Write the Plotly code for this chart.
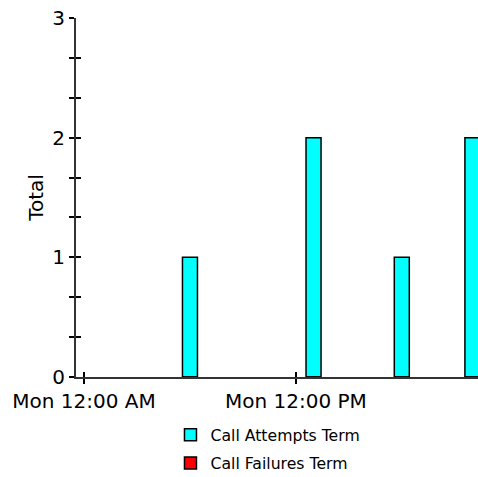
import plotly.graph_objects as go

times = ["2024-01-01 06:00", "2024-01-01 13:00", "2024-01-01 18:00", "2024-01-01 22:00"]
call_attempts = [1, 2, 1, 2]
call_failures = [0, 0, 0, 0]
y_ticks = [0, 1, 2, 3]

HOUR_MS = 3600 * 1000
FONT = "DejaVu Sans"

fig = go.Figure()
fig.add_trace(go.Bar(
    x=times, y=call_attempts, name="Call Attempts Term",
    marker=dict(color="#00FFFF", line=dict(color="#000000", width=1.5)),
    width=0.85 * HOUR_MS, legendgroup="a",
))
fig.add_trace(go.Bar(
    x=times, y=call_failures, name="Call Failures Term",
    marker=dict(color="#FF0000", line=dict(color="#000000", width=1.5)),
    width=0.85 * HOUR_MS, legendgroup="b",
))

yr = [0, 3]
xr = ["2023-12-31 23:32:40", "2024-01-01 22:19:00"]

fig.update_layout(
    width=478, height=477,
    margin=dict(l=76, r=0, t=18, b=100),
    paper_bgcolor="white", plot_bgcolor="white",
    barmode="overlay",
    font=dict(family=FONT, color="#000000"),
    showlegend=True,
    legend=dict(
        x=0.235, xanchor="left",
        yref="container", y=0.0587, yanchor="middle",
        orientation="v", font=dict(size=15.7, family=FONT),
        tracegroupgap=5, bgcolor="rgba(0,0,0,0)",
    ),
    xaxis=dict(
        type="date", range=xr, tick0="2024-01-01", dtick=12 * HOUR_MS,
        tickformat="%a %I:%M %p", ticks="outside", ticklen=5, tickwidth=1.5,
        tickcolor="#000", showline=True, linecolor="#333", linewidth=2,
        showgrid=False, zeroline=False, tickfont=dict(size=20, family=FONT),
        automargin=False,
    ),
    xaxis2=dict(
        type="date", range=xr, tick0="2024-01-01", dtick=12 * HOUR_MS,
        overlaying="x", ticks="inside", ticklen=5, tickwidth=1.5, tickcolor="#000",
        showticklabels=False, showgrid=False, zeroline=False, showline=False,
    ),
    yaxis=dict(
        range=yr, tickvals=y_ticks, ticks="outside", ticklen=5, tickwidth=1.5,
        tickcolor="#000", showline=True, linecolor="#333", linewidth=2,
        showgrid=False, zeroline=False, tickfont=dict(size=20, family=FONT),
        title=dict(text="Total", font=dict(size=20, family=FONT), standoff=3),
        minor=dict(dtick=1 / 3, ticks="outside", ticklen=5, tickwidth=1.5, tickcolor="#000"),
        automargin=False,
    ),
    yaxis2=dict(
        range=yr, tickvals=y_ticks, overlaying="y", side="left", anchor="x",
        ticks="inside", ticklen=5, tickwidth=1.5, tickcolor="#000",
        showticklabels=False, showgrid=False, zeroline=False, showline=False,
        minor=dict(dtick=1 / 3, ticks="inside", ticklen=5, tickwidth=1.5, tickcolor="#000"),
    ),
)

# invisible helper trace to activate the overlay axes carrying the inner tick halves
fig.add_trace(go.Scatter(x=[times[0]], y=[0], xaxis="x2", yaxis="y2",
                         mode="markers", marker=dict(opacity=0), showlegend=False,
                         hoverinfo="skip"))

fig.write_html(
    "out.html",
    config={"displayModeBar": False},
    post_script="document.body.style.margin='0';document.body.style.overflow='hidden';",
)
